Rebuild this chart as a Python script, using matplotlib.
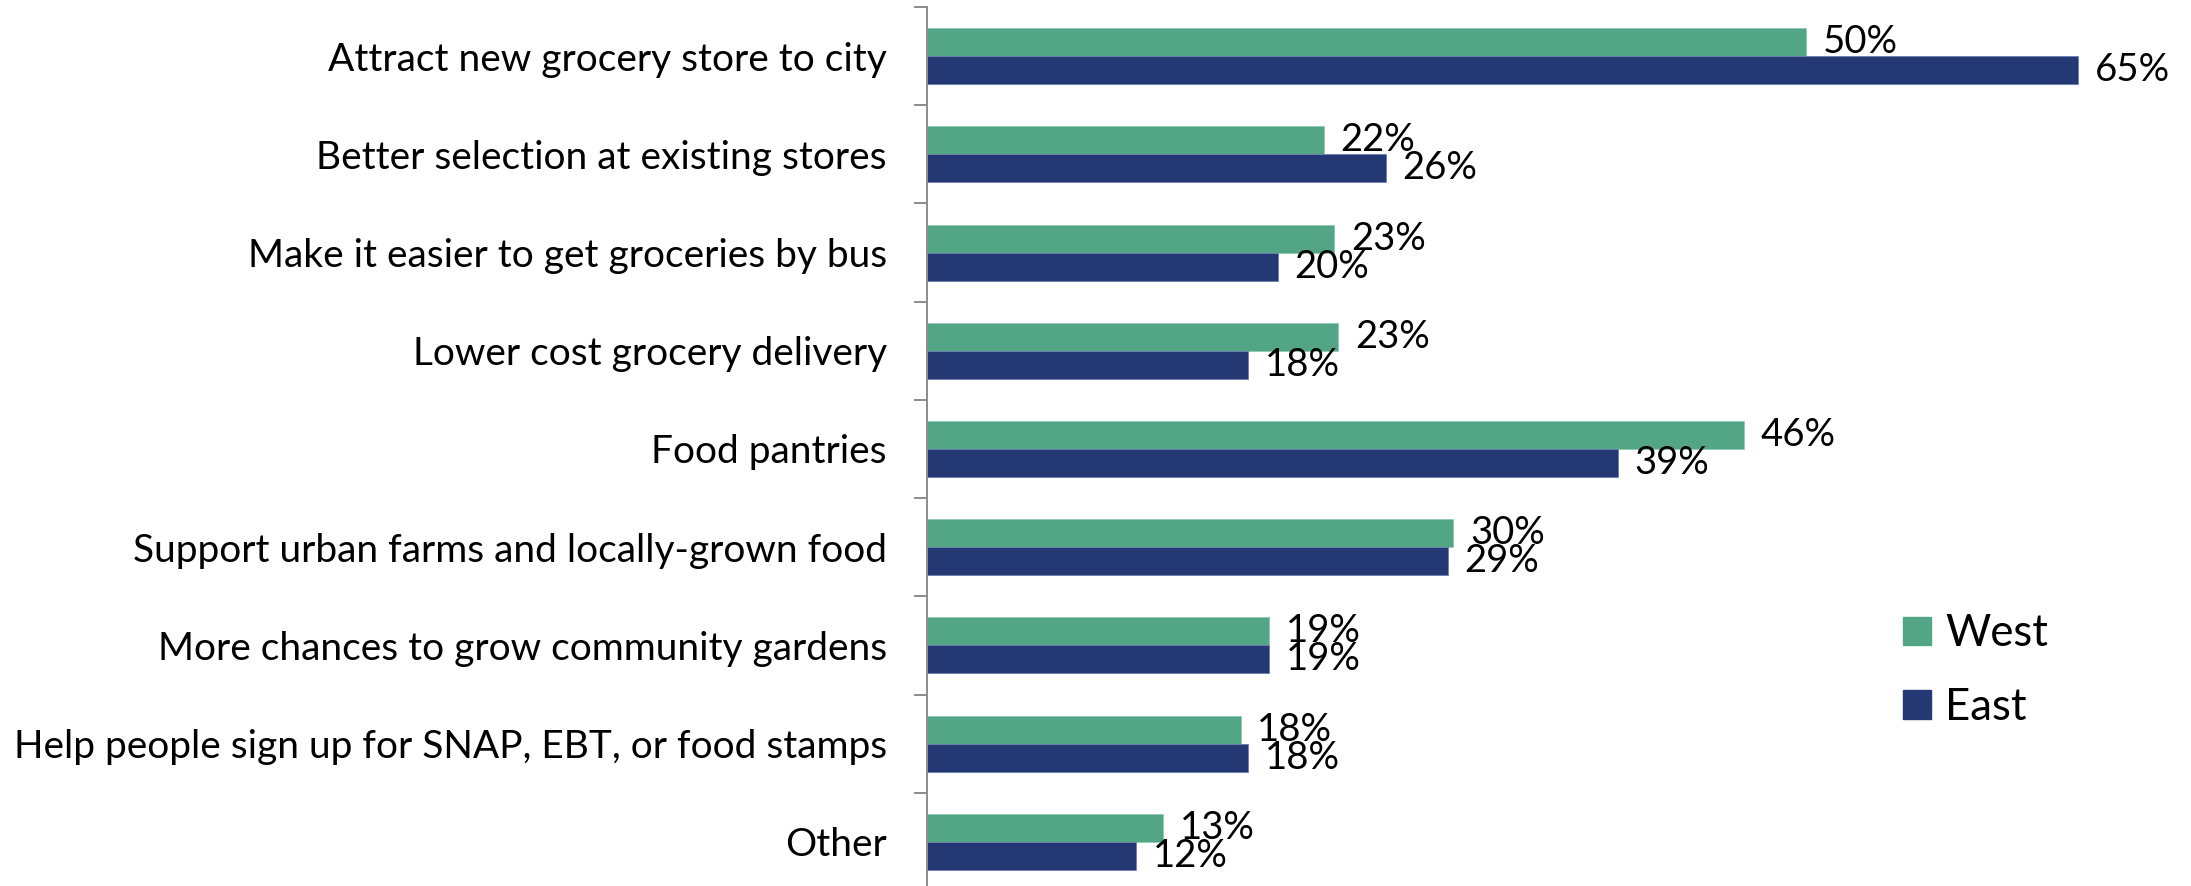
import numpy as np
import matplotlib
matplotlib.use('Agg')
import matplotlib.pyplot as plt
from matplotlib.patches import Patch

plt.rcParams['font.family'] = ['Lato', 'DejaVu Sans']

#### data
categories = ['Attract new grocery store to city',
              'Better selection at existing stores',
              'Make it easier to get groceries by bus',
              'Lower cost grocery delivery',
              'Food pantries',
              'Support urban farms and locally-grown food',
              'More chances to grow community gardens',
              'Help people sign up for SNAP, EBT, or food stamps',
              'Other']
west = [49.6, 22.4, 23.0, 23.2, 46.1, 29.7, 19.3, 17.7, 13.3]
east = [65.0, 25.9, 19.8, 18.1, 39.0, 29.4, 19.3, 18.1, 11.8]
series_names = ['West', 'East']

green = '#52A585'
navy = '#243873'

W, H = 2191, 886
fig = plt.figure(figsize=(W/100, H/100), dpi=100)
ax = fig.add_axes([927/W, -5/H, 1240/W, 884/H])

y = np.arange(len(categories))
bh = 0.285
ax.barh(y - bh/2, west, height=bh, color=green, edgecolor='#8fc9b0', linewidth=0.6)
ax.barh(y + bh/2, east, height=bh, color=navy, edgecolor='#6d7fb0', linewidth=0.6)

# data labels just past the bar ends (they touch each other in the original too)
for yi, v in zip(y, west):
    ax.text(v + 0.95, yi - bh/2, f'{v:.0f}%', va='center', ha='left', fontsize=27.5)
for yi, v in zip(y, east):
    ax.text(v + 0.95, yi + bh/2, f'{v:.0f}%', va='center', ha='left', fontsize=27.5)

ax.set_xlim(0, 70)
ax.set_ylim(len(categories) - 0.5, -0.5)
ax.set_xticks([])
ax.set_yticks(y)
ax.set_yticklabels(categories, fontsize=28)
ax.tick_params(axis='y', which='major', length=0, pad=29)
ax.set_yticks(np.arange(len(categories) + 1) - 0.5, minor=True)
ax.tick_params(axis='y', which='minor', length=9.5, width=1.4, color='#8c8c8c')

for s in ['top', 'right', 'bottom']:
    ax.spines[s].set_visible(False)
ax.spines['left'].set_color('#8c8c8c')
ax.spines['left'].set_linewidth(1.4)

handles = [Patch(color=green), Patch(color=navy)]
fig.legend(handles, series_names, loc='upper left',
           bbox_to_anchor=(1864/W, 1 - 574/H), frameon=False, fontsize=31.5,
           handlelength=0.62, handleheight=0.62, handletextpad=0.34,
           labelspacing=0.74)

fig.savefig('out.png', dpi=100)
